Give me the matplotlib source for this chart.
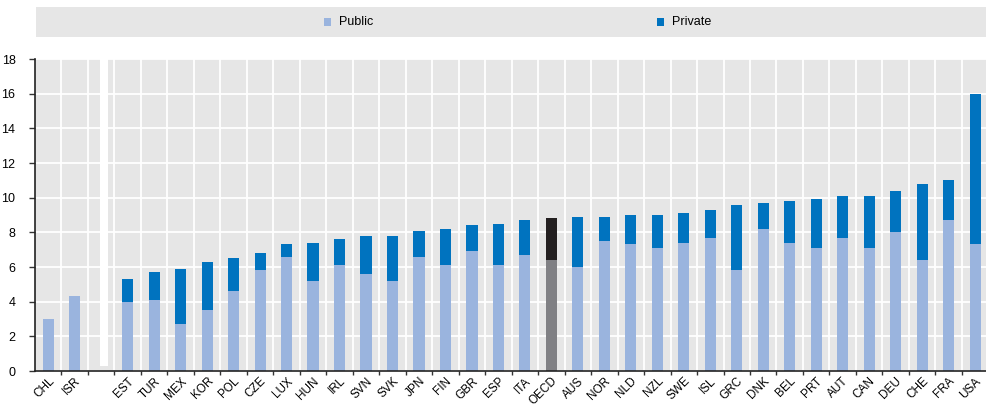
import matplotlib
matplotlib.use("Agg")
import matplotlib.pyplot as plt
from matplotlib.patches import Rectangle
import numpy as np

plt.rcParams["font.family"] = ["Liberation Sans", "DejaVu Sans"]

countries = ["CHL", "ISR", "", "EST", "TUR", "MEX", "KOR", "POL", "CZE", "LUX", "HUN",
             "IRL", "SVN", "SVK", "JPN", "FIN", "GBR", "ESP", "ITA", "OECD", "AUS",
             "NOR", "NLD", "NZL", "SWE", "ISL", "GRC", "DNK", "BEL", "PRT", "AUT",
             "CAN", "DEU", "CHE", "FRA", "USA"]
public = [3.0, 4.3, 0, 4.0, 4.1, 2.7, 3.5, 4.6, 5.8, 6.6, 5.2,
          6.1, 5.6, 5.2, 6.6, 6.1, 6.9, 6.1, 6.7, 6.4, 6.0,
          7.5, 7.3, 7.1, 7.4, 7.7, 5.8, 8.2, 7.4, 7.1, 7.7,
          7.1, 8.0, 6.4, 8.7, 7.3]
total = [3.0, 4.3, 0, 5.3, 5.7, 5.9, 6.3, 6.5, 6.8, 7.3, 7.4,
         7.6, 7.8, 7.8, 8.1, 8.2, 8.4, 8.5, 8.7, 8.8, 8.9,
         8.9, 9.0, 9.0, 9.1, 9.3, 9.6, 9.7, 9.8, 9.9, 10.1,
         10.1, 10.4, 10.8, 11.0, 16.0]
private = [t - p for t, p in zip(total, public)]

C_PUB = "#9ab4de"
C_PRIV = "#0073bf"
C_PUB_OECD = "#808084"
C_PRIV_OECD = "#231f20"
BG = "#e6e6e6"

x = np.arange(len(countries))
pub_colors = [C_PUB_OECD if c == "OECD" else C_PUB for c in countries]
priv_colors = [C_PRIV_OECD if c == "OECD" else C_PRIV for c in countries]

fig = plt.figure(figsize=(9.87, 4.08), dpi=100)
ax = fig.add_axes([35 / 987, 1 - 371 / 408, 952 / 987, 312 / 408])
ax.set_facecolor(BG)

ax.bar(x, public, width=0.42, color=pub_colors, zorder=3)
ax.bar(x, private, bottom=public, width=0.42, color=priv_colors, zorder=3)

# separator in the gap slot
gap = countries.index("")
ax.bar([gap + 0.1], [18 - 0.3], bottom=0.3, width=0.28, color="white", zorder=2)

ax.set_xlim(-0.5, len(countries) - 0.55)
ax.set_ylim(0, 18)
ax.set_yticks(range(0, 19, 2))
ax.set_xticks(x)
ax.set_xticklabels(countries, rotation=45, ha="right", rotation_mode="anchor", fontsize=8.5)
ax.tick_params(axis="x", length=0, pad=3)
ax.set_xticks(x[:-1] + 0.5, minor=True)
ax.tick_params(axis="x", which="minor", length=3, width=1, color="#333333")
ax.tick_params(axis="y", length=4, width=1, color="#333333", labelsize=9, pad=10)

ax.grid(axis="y", color="white", linewidth=1.3, zorder=1)
ax.grid(axis="x", which="minor", color="white", linewidth=1.3, zorder=1)
ax.set_axisbelow(True)

for s in ["top", "right"]:
    ax.spines[s].set_visible(False)
for s in ["left", "bottom"]:
    ax.spines[s].set_color("#222222")
    ax.spines[s].set_linewidth(1.2)
    ax.spines[s].set_zorder(4)

# legend box
fig.patches.append(Rectangle((36 / 987, 1 - 37 / 408), 950 / 987, 30 / 408,
                             transform=fig.transFigure, facecolor=BG, edgecolor="none"))
for lx, col, lab in [(324, C_PUB, "Public"), (657, C_PRIV, "Private")]:
    fig.patches.append(Rectangle((lx / 987, 1 - 26 / 408), 7 / 987, 8 / 408,
                                 transform=fig.transFigure, facecolor=col, edgecolor="none"))
    fig.text((lx + 15) / 987, 1 - 22 / 408, lab, fontsize=9, va="center", ha="left")

fig.savefig("out.png", dpi=100)
